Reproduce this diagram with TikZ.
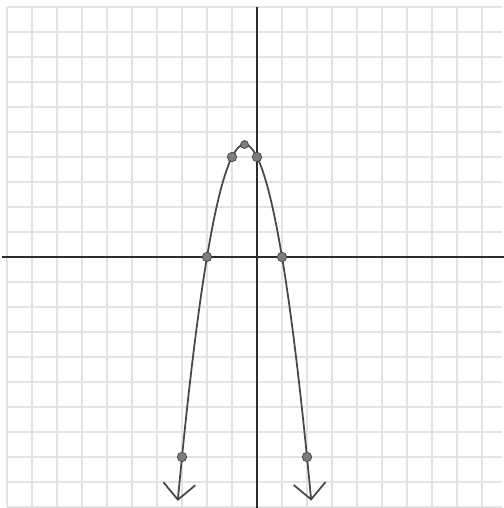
\documentclass[tikz,border=0pt]{standalone}
\usetikzlibrary{arrows.meta}
\definecolor{gridGrey}{HTML}{E3E3E3}
\definecolor{axisGrey}{HTML}{2C2C34}
\definecolor{curveGrey}{HTML}{474747}
\definecolor{dotGrey}{HTML}{7C7C7C}
\tikzset{
  % graph paper look: pale grid, dark axes, grey pencil curve
  gridline/.style = {gridGrey, line width=1.0pt},
  axisline/.style = {axisGrey, line width=1.3pt},
  parab/.style    = {curveGrey, line width=1.0pt,
                     {Straight Barb[length=3.2mm, width=6.4mm]}-{Straight Barb[length=3.2mm, width=6.4mm]}},
  ptdot/.style    = {circle, fill=dotGrey, draw=curveGrey, line width=0.4pt,
                     inner sep=0pt, minimum size=1.9mm},
}

\begin{document}
\begin{tikzpicture}[x=0.5cm, y=0.5cm]
  \useasboundingbox (-10.28,-10.04) rectangle (9.88,10.28);
  % paper
  \draw[gridline, step=0.5cm] (-10,-10) grid (9.8,10);
  % axes
  \draw[axisline] (-10.2,0) -- (9.88,0);
  \draw[axisline] (0,10) -- (0,-10.04);
  % y = -2x^2 - 2x + 4
  \draw[parab] plot[domain=-3.17:2.17, samples=80, smooth] (\x, {-2*\x*\x-2*\x+4});
  % plotted points
  \node[ptdot] (ptL)   at (-3,-8)   {};
  \node[ptdot] (rootL) at (-2,0)    {};
  \node[ptdot] (ptM)   at (-1,4)    {};
  \node[ptdot, minimum size=1.6mm] (vtx) at (-0.5,4.5) {};
  \node[ptdot] (yint)  at (0,4)     {};
  \node[ptdot] (rootR) at (1,0)     {};
  \node[ptdot] (ptR)   at (2,-8)    {};
\end{tikzpicture}
\end{document}
